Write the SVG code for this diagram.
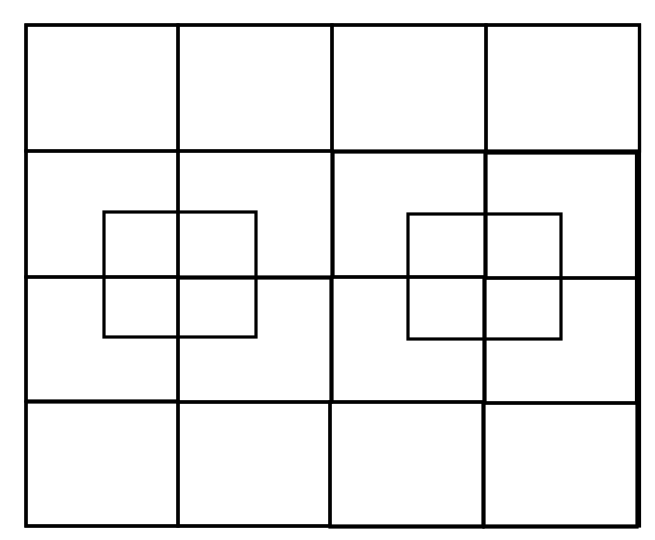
<svg xmlns="http://www.w3.org/2000/svg" width="655" height="540" viewBox="0 0 655 540">
<style>
rect.c{fill:none;stroke:#000;stroke-width:3.2}
</style>
<rect x="0" y="0" width="655" height="540" fill="#fff"/>
<g id="grid">
<rect id="frame" class="c" x="26" y="25" width="613.5" height="501"/>
<g id="r1">
<rect class="c" x="26" y="25" width="152" height="126"/>
<rect class="c" x="178" y="25" width="154" height="126"/>
<rect class="c" x="332" y="25" width="154" height="126"/>
<rect class="c" x="486" y="25" width="153.5" height="126"/>
</g>
<g id="r2">
<rect class="c" x="26" y="151" width="152" height="126"/>
<rect class="c" x="178" y="151" width="154" height="126"/>
<rect class="c" x="333" y="152" width="152" height="125"/>
<rect class="c" x="486" y="153" width="150.5" height="125"/>
</g>
<g id="r3">
<rect class="c" x="26" y="277" width="152" height="124"/>
<rect class="c" x="178" y="278" width="153" height="124"/>
<rect class="c" x="332" y="277" width="152" height="125"/>
<rect class="c" x="485" y="278" width="151.5" height="125"/>
</g>
<g id="r4">
<rect class="c" x="26" y="402" width="152" height="124"/>
<rect class="c" x="178" y="402" width="152" height="124"/>
<rect class="c" x="330" y="402" width="153" height="125"/>
<rect class="c" x="484" y="403" width="153" height="124"/>
</g>
</g>
<g id="squares">
<rect id="sq1" class="c" x="104" y="212" width="152" height="125"/>
<rect id="sq2" class="c" x="408" y="214" width="153" height="125"/>
</g>
</svg>
